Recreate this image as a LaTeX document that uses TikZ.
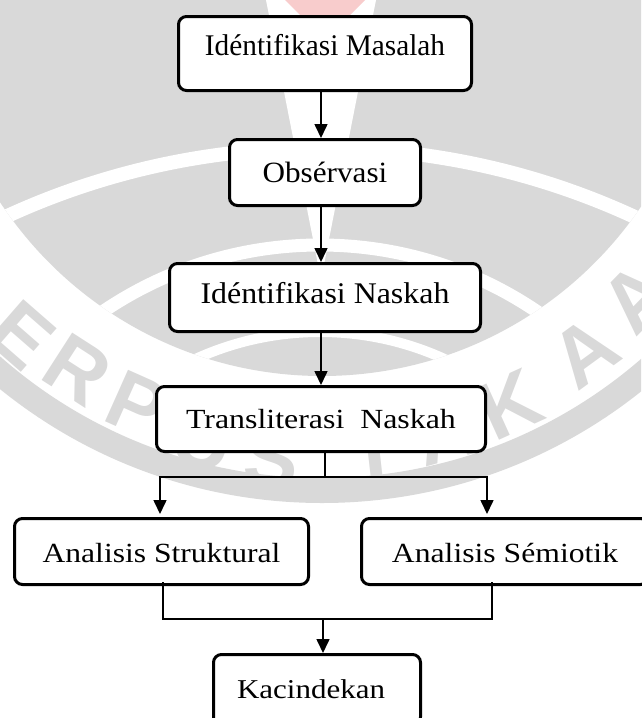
\documentclass[tikz,border=0pt]{standalone}
\usepackage{graphicx}
\usepackage{fontspec}
\setmainfont{Liberation Serif}
\newfontfamily\wmfont{Liberation Sans}
\usetikzlibrary{arrows.meta,calc}
\definecolor{wmgray}{RGB}{217,217,217}
\definecolor{wmpink}{RGB}{248,204,204}
\begin{document}
\begin{tikzpicture}[x=1pt,y=-1pt,
  box/.style={draw=black, line width=3pt, rounded corners=8pt, fill=white,
    inner sep=0pt, anchor=base, align=center, font=\fontsize{30}{36}\selectfont},
  arr/.style={line width=1.6pt, -{Triangle[width=13pt,length=14pt]}},
  conn/.style={line width=1.6pt},
  wmletter/.style={text=wmgray, font=\wmfont\bfseries\fontsize{82}{82}\selectfont, inner sep=0pt}]
\useasboundingbox (0,0) rectangle (641,718);
% ---------- watermark ----------
\begin{scope}
  \clip (0,0) rectangle (641,718);
  \fill[wmgray] (322,-9) circle (385);
  \fill[wmgray, even odd rule] (322,-9) circle (512) (322,-9) circle (487);
  \begin{scope}
    \clip (322,-9) circle (385);
    \fill[white] (266,0) -- (376,0) -- (321,280) -- cycle;
    \draw[white, line width=14pt] (320,899) circle (751);
    \draw[white, line width=13pt] (320,632) circle (387);
    \draw[white, line width=10pt] (320,632) circle (300);
  \end{scope}
  \fill[wmpink] (285,0) -- (365,0) -- (325,40) -- cycle;
  \foreach \ch/\px/\py [count=\i] in {E/22/335, R/78/370, P/137/405, U/203/440, S/272/458, T/374/452, A/445/432, K/510/405, A/585/352, A/636/298} {
    \pgfmathsetmacro{\ang}{atan2(\px-322,\py+9)}
    \node[wmletter, rotate=\ang] (wl\i) at (\px,\py) {\ch};
  }
\end{scope}
% ---------- boxes ----------
\node[box, minimum width=293pt, text height=38.5pt, text depth=35.5pt] (b1) at (325,55) {\scalebox{0.977}[1.0]{Idéntifikasi Masalah}};
\node[box, minimum width=191pt, text height=42.5pt, text depth=23.5pt] (b2) at (325,182) {\scalebox{1.04}[0.98]{Obsérvasi}};
\node[box, minimum width=311pt, text height=39.5pt, text depth=28.5pt] (b3) at (325,303) {\scalebox{1.063}[1.0]{Idéntifikasi Naskah}};
\node[box, minimum width=329pt, text height=41.5pt, text depth=23.5pt] (b4) at (321,428) {\scalebox{1.063}[0.923]{Transliterasi\ \ Naskah}};
\node[box, minimum width=294pt, text height=43.5pt, text depth=22.5pt] (b5) at (161.5,562) {\scalebox{1.053}[0.923]{Analisis Struktural}};
\node[box, minimum width=287pt, text height=43.5pt, text depth=22.5pt] (b6) at (505,562) {\scalebox{1.056}[0.923]{Analisis Sémiotik}};
\node[box, minimum width=207pt, text height=43.5pt, text depth=27pt] (b7) at (317,698) {\scalebox{1.033}[0.907]{Kacindekan}\hspace*{12pt}};
% ---------- connectors ----------
\draw[arr] ($(b1.south)+(-4,0)$) -- ($(b2.north)+(-4,0)$);
\draw[arr] ($(b2.south)+(-4,0)$) -- ($(b3.north)+(-4,0)$);
\draw[arr] ($(b3.south)+(-4,0)$) -- (b4.north);
\coordinate (j1) at (325,477);
\draw[conn] ($(b4.south)+(4,0)$) -- (j1);
\draw[arr] (j1) -| ($(b5.north)+(-1.5,-3)$);
\draw[arr] (j1) -| ($(b6.north)+(-18,-3)$);
\coordinate (j2) at (323,619);
\draw[conn] ($(b5.south)+(1.5,-4)$) |- (j2) -| ($(b6.south)+(-13,-4)$);
\draw[arr] (j2) -- (b7.north -| j2);
\end{tikzpicture}
\end{document}
